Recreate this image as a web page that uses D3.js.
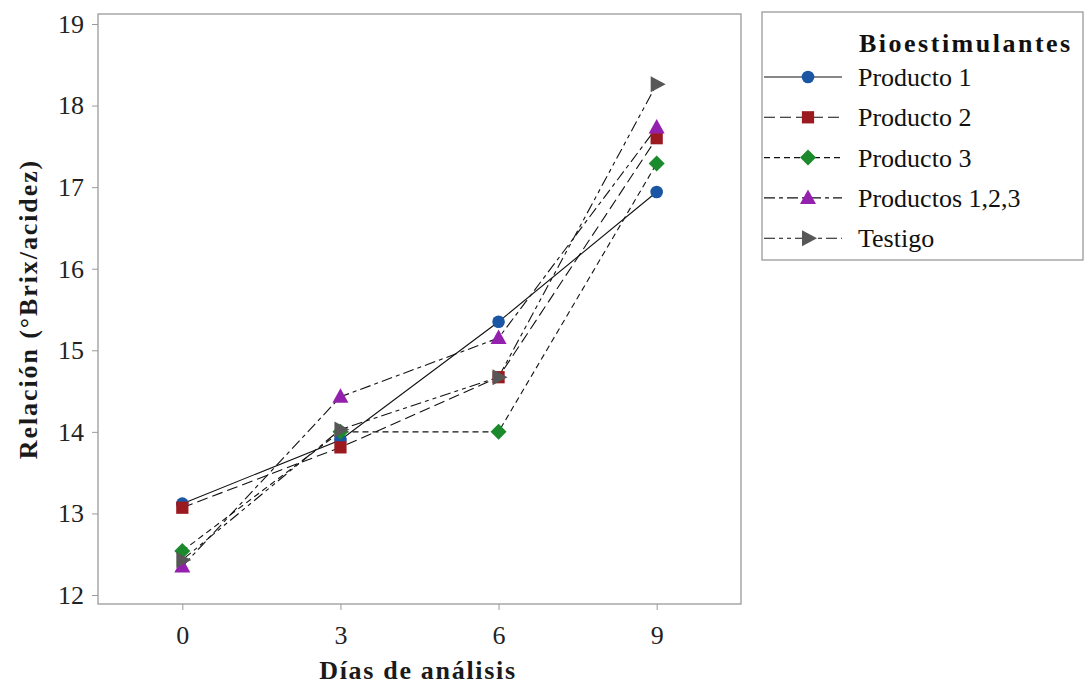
<!DOCTYPE html>
<html><head><meta charset="utf-8">
<script src="https://cdn.jsdelivr.net/npm/d3@7"></script>
<style>body{margin:0;background:#fff}svg{display:block}text{font-family:"Liberation Serif","Times New Roman",Times,serif}</style>
</head><body>
<svg id="c" width="1086" height="687"></svg>
<script>
const days = [0, 3, 6, 9];
const seriesNames = ["Producto 1", "Producto 2", "Producto 3", "Productos 1,2,3", "Testigo"];
const producto1 = [13.12, 13.9, 15.35, 16.94];
const producto2 = [13.07, 13.81, 14.67, 17.60];
const producto3 = [12.54, 14.00, 14.00, 17.29];
const productos123 = [12.35, 14.43, 15.15, 17.73];
const testigo = [12.43, 14.03, 14.67, 18.26];
const yTicks = [12, 13, 14, 15, 16, 17, 18, 19];
const xTicks = [0, 3, 6, 9];

const values = [producto1, producto2, producto3, productos123, testigo];
const colors = ["#1a56a4", "#9a1a1f", "#1b8a2c", "#9420ae", "#575757"];
const dashes = [null, "11,5", "6,4", "11,4,4,4", "11,4,4,4,4,4"];
const shapes = ["circle", "square", "diamond", "triangle", "right"];

const svg = d3.select("#c");
const L = 98, R = 741, T = 14, B = 604;
const x = d3.scaleLinear().domain([-1.6, 10.6]).range([L, R]);
const y = d3.scaleLinear().domain([12, 19]).range([595, 24]);

// frame
svg.append("rect").attr("x", L).attr("y", T).attr("width", R - L).attr("height", B - T)
  .attr("fill", "none").attr("stroke", "#9a9a9a").attr("stroke-width", 1.3);

// axes
const yAxis = svg.append("g").attr("transform", `translate(${L},0)`)
  .call(d3.axisLeft(y).tickValues(yTicks).tickSize(6).tickPadding(8).tickFormat(d3.format("d")));
const xAxis = svg.append("g").attr("transform", `translate(0,${B})`)
  .call(d3.axisBottom(x).tickValues(xTicks).tickSize(6).tickPadding(16).tickFormat(d3.format("d")));
[yAxis, xAxis].forEach(g => {
  g.select(".domain").remove();
  g.selectAll("line").attr("stroke", "#9a9a9a");
  g.selectAll("text").attr("font-size", 26).attr("fill", "#222").attr("font-family", '"Liberation Serif","Times New Roman",serif');
});

// axis titles
svg.append("text").attr("x", 418).attr("y", 679).attr("text-anchor", "middle")
  .attr("font-size", 26).attr("font-weight", "bold").attr("letter-spacing", 1.7).attr("fill", "#1a1a1a").text("Días de análisis");
svg.append("text").attr("transform", "translate(37,309) rotate(-90)").attr("text-anchor", "middle")
  .attr("font-size", 26).attr("font-weight", "bold").attr("letter-spacing", 1.9).attr("fill", "#1a1a1a").text("Relación (°Brix/acidez)");

function symbolPath(shape) {
  switch (shape) {
    case "circle": return d3.symbol(d3.symbolCircle, 125)();
    case "square": return d3.symbol(d3.symbolSquare, 150)();
    case "diamond": return "M0,-8L8,0L0,8L-8,0Z";
    case "triangle": return "M0,-8.5L8,6L-8,6Z";
    case "right": return "M-6,-8L9,0L-6,8Z";
  }
}

const line = d3.line().x((d, i) => x(days[i])).y(d => y(d));
values.forEach((vals, s) => {
  svg.append("path").attr("d", line(vals)).attr("fill", "none").attr("stroke", "#111")
    .attr("stroke-width", 1.1).attr("stroke-dasharray", dashes[s]);
});
values.forEach((vals, s) => {
  svg.append("g").selectAll("path").data(vals).join("path")
    .attr("transform", (d, i) => `translate(${x(days[i])},${y(d)})`)
    .attr("d", symbolPath(shapes[s])).attr("fill", colors[s]);
});

// legend
const lg = svg.append("g");
lg.append("rect").attr("x", 762).attr("y", 12).attr("width", 321).attr("height", 248)
  .attr("fill", "none").attr("stroke", "#9a9a9a").attr("stroke-width", 1.3);
lg.append("text").attr("x", 859).attr("y", 52).attr("font-size", 26).attr("font-weight", "bold")
  .attr("fill", "#111").attr("letter-spacing", 2.5).text("Bioestimulantes");
seriesNames.forEach((n, i) => {
  const yy = 77 + i * 40.3;
  lg.append("line").attr("x1", 764).attr("x2", 842).attr("y1", yy).attr("y2", yy)
    .attr("stroke", "#111").attr("stroke-width", 1.1).attr("stroke-dasharray", dashes[i]);
  lg.append("path").attr("transform", `translate(808,${yy})`).attr("d", symbolPath(shapes[i])).attr("fill", colors[i]);
  lg.append("text").attr("x", 858).attr("y", yy + 9).attr("font-size", 26).attr("fill", "#111").text(n);
});
</script>
</body></html>
